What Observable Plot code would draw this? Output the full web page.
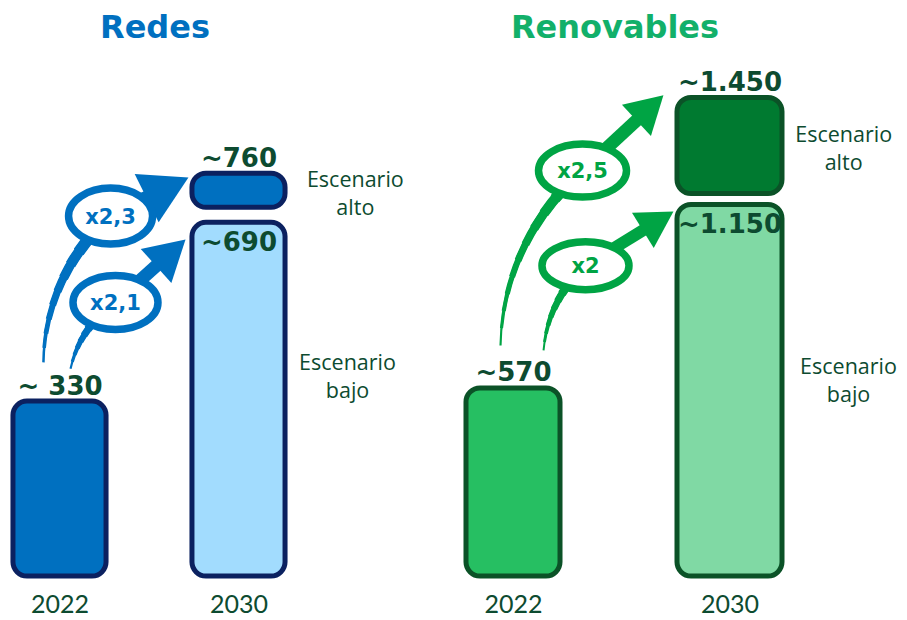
<!DOCTYPE html>
<html><head><meta charset="utf-8">
<script src="https://cdn.jsdelivr.net/npm/d3@7"></script>
<script src="https://cdn.jsdelivr.net/npm/@observablehq/plot@0.6"></script>
<style>
html,body{margin:0;padding:0;background:#fff;}
#wrap{position:relative;width:907px;height:620px;overflow:hidden;}
.panel{position:absolute;top:0;}
.title{position:absolute;top:11px;font-weight:bold;font-size:32px;line-height:1;transform:translateX(-50%);white-space:nowrap;z-index:2;font-family:"DejaVu Sans",sans-serif;}
</style></head><body>
<div id="wrap">
 <div id="t1" class="title" style="left:155px;color:#0070c0"></div>
 <div id="t2" class="title" style="left:615px;color:#12b06a"></div>
 <div id="p1" class="panel" style="left:0"></div>
 <div id="p2" class="panel" style="left:453px"></div>
</div>
<script>
// ---- data ----
const panels = ["Redes", "Renovables"];
const years = [2022, 2030];
const redesValues = [330, 690, 760];          // 2022, 2030 escenario bajo, 2030 escenario alto
const renovablesValues = [570, 1150, 1450];
const redesLabels = ["~ 330", "~690", "~760"];
const renovablesLabels = ["~570", "~1.150", "~1.450"];
const redesGrowth = ["x2,3", "x2,1"];
const renovablesGrowth = ["x2,5", "x2"];
const scenarioLabels = ["Escenario alto", "Escenario bajo"];

const LABEL = "#0d4b30";
const FONT = "Lato, 'Open Sans', sans-serif";
const BOLD = "'DejaVu Sans', sans-serif";
const SCEN = "'Open Sans', sans-serif";

function ellipseSymbol(rx, ry) {
  return {
    draw(ctx) {
      const k = 0.5523, ox = rx * k, oy = ry * k;
      ctx.moveTo(-rx, 0);
      ctx.bezierCurveTo(-rx, -oy, -ox, -ry, 0, -ry);
      ctx.bezierCurveTo(ox, -ry, rx, -oy, rx, 0);
      ctx.bezierCurveTo(rx, oy, ox, ry, 0, ry);
      ctx.bezierCurveTo(-ox, ry, -rx, oy, -rx, 0);
      ctx.closePath();
    }
  };
}

function panel(cfg) {
  const [v0, vLow, vHigh] = cfg.values;
  const sx = Plot.scale({x: {domain: years, range: cfg.xRange}});
  const sy = Plot.scale({y: {domain: [0, 1000], range: cfg.yRange}});
  const base = {year: years[0], y1: 0, y2: v0, label: cfg.labels[0]};
  const low = {year: years[1], y1: 0, y2: vLow, label: cfg.labels[1]};
  const high = {year: years[1], y1: vLow, y2: vHigh, label: cfg.labels[2]};
  const c = cfg.colors;
  const barOpts = (hw) => ({x1: d => d.year - hw, x2: d => d.year + hw, y1: "y1", y2: "y2",
    stroke: c.stroke, strokeWidth: 5, rx: 14});
  const marks = [
    Plot.rect([base], {...barOpts(cfg.hw[0]), fill: c.base}),
    Plot.rect([low], {...barOpts(cfg.hw[1]), fill: c.low, insetTop: cfg.gapLow}),
    Plot.rect([high], {...barOpts(cfg.hw[1]), fill: c.high, insetBottom: cfg.gapHigh}),
    Plot.text([base, high], {x: "year", y: "y2", text: "label", lineAnchor: "bottom", dy: -7,
      fontSize: 26, fontWeight: "bold", fill: LABEL, fontFamily: BOLD}),
    Plot.text([low], {x: "year", y: "y2", text: "label", lineAnchor: "top", dy: cfg.gapLow + cfg.inDy,
      fontSize: 26, fontWeight: "bold", fill: LABEL, fontFamily: BOLD}),
    Plot.text([
      {x: years[1] + cfg.scenDx[0], y: (vLow + vHigh) / 2, t: scenarioLabels[0]},
      {x: years[1] + cfg.scenDx[1], y: vLow * cfg.lowFrac, t: scenarioLabels[1]}
    ], {x: "x", y: "y", text: d => d.t.replace(" ", "\n"), fontSize: 21.5, lineHeight: 1.3,
      fill: LABEL, fontFamily: SCEN}),
    Plot.axisX({ticks: years, tickSize: 0, tickPadding: 19, tickFormat: d3.format("d"),
      fontSize: 25, fill: LABEL, fontFamily: FONT})
  ];
  const shafts = [], heads = [], bubbles = [];
  const taper = d3.range(10).map(i => [2.5 + i * 1.15, i * 0.09]);
  for (const a of cfg.arrows) {
    const P = (p) => [sx.apply(p[0]), sy.apply(p[1])];
    const [tx, ty] = P(a.from), [mx, my] = P(a.mid), [px, py] = P(a.to);
    const len1 = Math.hypot(mx - tx, my - ty);
    const L2 = Math.hypot(px - mx, py - my);
    const ux = (px - mx) / L2, uy = (py - my) / L2;
    const rot = Math.atan2(ux, -uy) * 180 / Math.PI;
    const back = 1.555 * a.headR;
    for (const [w, f] of taper) {
      shafts.push(Plot.arrow([a], {x1: d => d.from[0], y1: d => d.from[1], x2: d => d.mid[0], y2: d => d.mid[1],
        bend: a.bend, stroke: c.arrow, strokeWidth: w * a.width / 15, headLength: 0, insetStart: f * len1, strokeLinecap: "butt"}));
    }
    shafts.push(Plot.arrow([a], {x1: d => d.mid[0], y1: d => d.mid[1], x2: d => d.to[0], y2: d => d.to[1],
      bend: 0, stroke: c.arrow, strokeWidth: a.width, headLength: 0, insetEnd: back * 0.9, strokeLinecap: "butt"}));
    heads.push(Plot.dot([a], {x: d => d.to[0], y: d => d.to[1], symbol: "triangle", r: a.headR, rotate: rot,
      dx: -ux * back, dy: -uy * back, fill: c.arrow, stroke: "none"}));
    bubbles.push(Plot.dot([a], {x: d => d.mid[0], y: d => d.mid[1], symbol: ellipseSymbol(a.ell[0], a.ell[1]), r: 10,
      fill: "white", stroke: c.arrow, strokeWidth: 7.5}));
    bubbles.push(Plot.text([a], {x: d => d.mid[0], y: d => d.mid[1], text: "label", fontSize: 21, fontWeight: "bold",
      fill: c.arrow, fontFamily: BOLD, dy: 1}));
  }
  return Plot.plot({
    width: cfg.width, height: 620,
    marginLeft: 0, marginRight: 0, marginTop: 0, marginBottom: 44,
    x: {domain: years, range: cfg.xRange},
    y: {domain: [0, 1000], range: cfg.yRange, axis: null},
    style: {fontFamily: FONT, background: "transparent", overflow: "visible"},
    marks: [...marks, ...shafts, ...heads, ...bubbles]
  });
}

const redesCfg = {
  width: 453, values: redesValues, labels: redesLabels,
  xRange: [59.5, 238.5], yRange: [576, 46], hw: [2.08, 2.08],
  colors: {base: "#0070c0", low: "#a2dcfe", high: "#0070c0", stroke: "#0b2160", arrow: "#0070c0"},
  gapLow: 12, gapHigh: 3, inDy: 10, scenDx: [5.2, 4.85], lowFrac: 0.55,
  arrows: [
    {label: redesGrowth[0], from: [years[0] - 0.74, redesValues[0] + 74], mid: [years[0] + 2.26, redesValues[2] - 80],
      to: [years[1] - 2.26, redesValues[2] - 7], headR: 20, width: 15, bend: 24, ell: [42, 28]},
    {label: redesGrowth[1], from: [years[0] + 0.47, redesValues[0] + 62], mid: [years[0] + 2.48, redesValues[1] - 173],
      to: [years[1] - 2.39, redesValues[1] - 54], headR: 17, width: 13, bend: 22, ell: [42.5, 27]}
  ]
};
const renovCfg = {
  width: 454, values: renovablesValues, labels: renovablesLabels,
  xRange: [60, 276.5], yRange: [576, 246], hw: [1.737, 1.94],
  colors: {base: "#26bf62", low: "#80d9a4", high: "#007a30", stroke: "#0b5227", arrow: "#00a444"},
  gapLow: 8, gapHigh: 3, inDy: 10, scenDx: [4.2, 4.38], lowFrac: 0.52,
  arrows: [
    {label: renovablesGrowth[0], from: [years[0] - 0.48, renovablesValues[0] + 130], mid: [years[0] + 2.55, renovablesValues[2] - 220],
      to: [years[1] - 2.46, renovablesValues[2] + 8], headR: 15.8, width: 13, bend: 24, ell: [44, 26.5]},
    {label: renovablesGrowth[1], from: [years[0] + 1.11, renovablesValues[0] + 115], mid: [years[0] + 2.66, renovablesValues[1] - 208],
      to: [years[1] - 2.09, renovablesValues[1] - 44], headR: 15.4, width: 12, bend: 22, ell: [43.5, 24]}
  ]
};

document.getElementById("t1").textContent = panels[0];
document.getElementById("t2").textContent = panels[1];
document.getElementById("p1").appendChild(panel(redesCfg));
document.getElementById("p2").appendChild(panel(renovCfg));
</script>
</body></html>
